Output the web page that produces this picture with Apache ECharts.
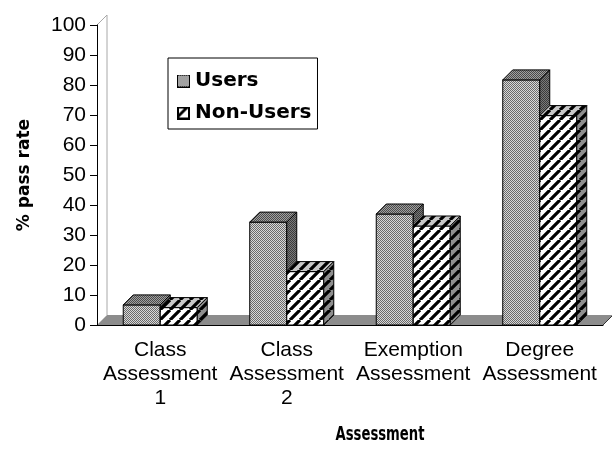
<!DOCTYPE html>
<html><head><meta charset="utf-8">
<script src="https://cdn.jsdelivr.net/npm/echarts@6/dist/echarts.min.js"></script>
<style>html,body{margin:0;padding:0;background:#fff}#c{width:612px;height:450px}</style>
</head><body><div id="c"></div>
<script>
// ---- data ----
const categories = ['Class Assessment 1', 'Class Assessment 2', 'Exemption Assessment', 'Degree Assessment'];
const seriesNames = ['Users', 'Non-Users'];
const users = [6.7, 34.3, 37.0, 81.7];
const nonUsers = [5.8, 17.8, 33.0, 69.8];
const yMin = 0, yMax = 100, yStep = 10;
const yTitle = '% pass rate';
const xTitle = 'Assessment';

// ---- styles ----
const DX = 10, DY = 10;
function stipple(dark, light) {
  const c = document.createElement('canvas'); c.width = 2; c.height = 2;
  const g = c.getContext('2d');
  g.fillStyle = light; g.fillRect(0, 0, 2, 2);
  g.fillStyle = dark; g.fillRect(0, 0, 1, 1); g.fillRect(1, 1, 1, 1);
  return { image: c, repeat: 'repeat' };
}
function hatch(bg, size, lw) {
  const c = document.createElement('canvas'); c.width = size; c.height = size;
  const g = c.getContext('2d');
  g.fillStyle = bg; g.fillRect(0, 0, size, size);
  g.strokeStyle = '#000'; g.lineWidth = lw;
  g.beginPath();
  for (const k of [-size, 0, size]) { g.moveTo(k, size); g.lineTo(k + size, 0); }
  g.stroke();
  return { image: c, repeat: 'repeat' };
}
const fills = [
  { front: stipple('#6a6a6a', '#d8d8d8'), top: stipple('#4a4a4a', '#a0a0a0'), side: stipple('#3a3a3a', '#7a7a7a') },
  { front: hatch('#fff', 10, 3.2), top: hatch('#c8c8c8', 10, 3.2), side: hatch('#8e8e8e', 10, 3.2) }
];
function iconUsers() {
  const c = document.createElement('canvas'); c.width = 13; c.height = 13;
  const g = c.getContext('2d');
  for (let i = 0; i < 13; i++) for (let j = 0; j < 13; j++) {
    g.fillStyle = ((i + j) % 2) ? '#d8d8d8' : '#6a6a6a'; g.fillRect(i, j, 1, 1);
  }
  g.strokeStyle = '#000'; g.lineWidth = 1; g.strokeRect(0.5, 0.5, 12, 12);
  return 'image://' + c.toDataURL();
}
function iconNon() {
  const c = document.createElement('canvas'); c.width = 13; c.height = 13;
  const g = c.getContext('2d');
  g.fillStyle = '#fff'; g.fillRect(0, 0, 13, 13);
  g.fillStyle = '#000';
  g.beginPath(); g.moveTo(0, 13); g.lineTo(0, 9); g.lineTo(9, 0); g.lineTo(13, 0); g.closePath(); g.fill();
  g.strokeStyle = '#000'; g.lineWidth = 2; g.strokeRect(1, 1, 11, 11);
  return 'image://' + c.toDataURL();
}

function barRender(sIdx) {
  return function (params, api) {
    const ci = api.value(0), v = api.value(1);
    const base = api.coord([ci, yMin]);
    const topP = api.coord([ci, v]);
    const band = api.size([1, 0])[0];
    const w = band * 0.2925;
    const xL = sIdx === 0 ? base[0] - w : base[0];
    const xR = xL + w;
    const yB = base[1], yT = topP[1];
    const f = fills[sIdx];
    const st = (fill) => ({ fill: fill, stroke: '#000', lineWidth: 1 });
    return {
      type: 'group',
      children: [
        { type: 'polygon', shape: { points: [[xL, yB], [xR, yB], [xR, yT], [xL, yT]] }, style: st(f.front) },
        { type: 'polygon', shape: { points: [[xL, yT], [xR, yT], [xR + DX, yT - DY], [xL + DX, yT - DY]] }, style: st(f.top) },
        { type: 'polygon', shape: { points: [[xR, yB], [xR + DX, yB - DY], [xR + DX, yT - DY], [xR, yT]] }, style: st(f.side) }
      ]
    };
  };
}
function floorRender(params, api) {
  const band = api.size([1, 0])[0];
  const p0 = api.coord([0, yMin]);
  const p1 = api.coord([categories.length - 1, yMin]);
  const pt = api.coord([0, yMax]);
  const x0 = p0[0] - band / 2, x1 = p1[0] + band / 2, y0 = p0[1], yt = pt[1];
  return {
    type: 'group',
    children: [
      { type: 'polygon', shape: { points: [[x0, y0], [x1, y0], [x1 + DX, y0 - DY], [x0 + DX, y0 - DY]] },
        style: { fill: '#8c8c8c', stroke: null } },
      { type: 'line', shape: { x1: x1, y1: y0, x2: x1 + DX, y2: y0 - DY }, style: { stroke: '#333', lineWidth: 1 } },
      { type: 'polyline', shape: { points: [[x0, yt], [x0 + DX, yt - DY], [x0 + DX, y0 - DY]] },
        style: { stroke: '#a8a8a8', lineWidth: 1, fill: null } }
    ]
  };
}

const chart = echarts.init(document.getElementById('c'), null, { renderer: 'canvas' });
chart.setOption({
  animation: false,
  backgroundColor: '#fff',
  grid: { left: 97, right: 9, top: 25, bottom: 125, containLabel: false },
  legend: {
    orient: 'vertical', left: 168, top: 58,
    borderColor: '#000', borderWidth: 1, padding: [13, 6, 6, 9],
    itemGap: 12, itemWidth: 13, itemHeight: 13,
    selectedMode: false,
    textStyle: { fontFamily: 'DejaVu Sans', fontWeight: 'bold', fontSize: 20, color: '#000' },
    data: [{ name: seriesNames[0], icon: iconUsers() }, { name: seriesNames[1], icon: iconNon() }]
  },
  graphic: [{
    type: 'text', x: 380, y: 435, scaleX: 0.66, silent: true,
    style: { text: xTitle, textAlign: 'center', textVerticalAlign: 'middle', font: 'bold 20px "DejaVu Sans"', fill: '#000' }
  }],
  xAxis: {
    type: 'category', data: categories, z: 10,
    axisLine: { lineStyle: { color: '#000', width: 1 } },
    axisTick: { length: 6, lineStyle: { color: '#000' } },
    axisLabel: { interval: 0, margin: 13, fontFamily: 'Liberation Sans', fontSize: 21, lineHeight: 24, color: '#000',
      formatter: v => v.split(' ').join('\n') },
    splitLine: { show: false }
  },
  yAxis: {
    type: 'value', min: yMin, max: yMax, interval: yStep, z: 10,
    name: yTitle, nameLocation: 'middle', nameGap: 64, nameRotate: 90,
    nameTextStyle: { fontFamily: 'DejaVu Sans', fontWeight: 'bold', fontSize: 17, color: '#000' },
    axisLine: { show: true, lineStyle: { color: '#000', width: 1 } },
    axisTick: { show: true, length: 7, lineStyle: { color: '#000' } },
    axisLabel: { margin: 11, fontFamily: 'Liberation Sans', fontSize: 21, color: '#000' },
    splitLine: { show: false }
  },
  series: [
    { type: 'custom', name: '_floor', data: [[0, 0]], renderItem: floorRender, z: 1, silent: true, legendHoverLink: false },
    { type: 'custom', name: seriesNames[0], data: users.map((v, i) => [i, v]), renderItem: barRender(0), encode: { x: 0, y: 1 }, z: 2,
      itemStyle: { color: '#999' } },
    { type: 'custom', name: seriesNames[1], data: nonUsers.map((v, i) => [i, v]), renderItem: barRender(1), encode: { x: 0, y: 1 }, z: 3,
      itemStyle: { color: '#fff' } }
  ]
});
</script></body></html>
